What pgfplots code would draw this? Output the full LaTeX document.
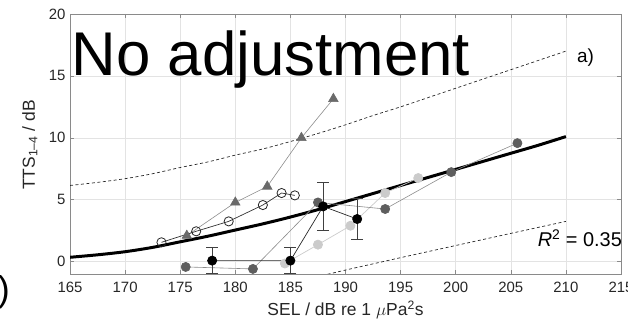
\documentclass[border=0pt]{standalone}
\usepackage{pgfplots}
\pgfplotsset{compat=1.18}
\usepackage{fontspec}
\setmainfont{Liberation Sans}
\definecolor{axgray}{HTML}{8A8A8A}
\definecolor{gridc}{HTML}{E3E3E3}
\definecolor{tri}{HTML}{6A6A6A}
\definecolor{dkc}{HTML}{5E5E5E}
\definecolor{ltc}{HTML}{CBCBCB}
\definecolor{txt}{HTML}{262626}
\begin{document}
\begin{tikzpicture}[x=1bp,y=1bp]
\begin{axis}[
  at={(70bp,50bp)}, anchor=south west,
  scale only axis, width=551bp, height=260bp,
  xmin=165, xmax=215, ymin=-1, ymax=20,
  xtick={165,170,...,215}, ytick={0,5,10,15,20},
  grid=major, major grid style={gridc, line width=0.5pt},
  axis line style={axgray, line width=0.8pt},
  tick align=inside, major tick length=4bp,
  tick style={axgray, line width=0.6pt},
  ticklabel style={font=\fontsize{15}{16}\selectfont, text=txt},
  /pgf/number format/assume math mode=true,
  xticklabel style={yshift=-5bp},
  yticklabel style={xshift=-1bp},
  xlabel={SEL / dB re 1 $\mu$Pa\textsuperscript{2}s},
  ylabel={TTS\textsubscript{1–4} / dB},
  label style={font=\fontsize{17.5}{18}\selectfont, text=txt},
  xlabel style={at={(axis description cs:0.5,-0.138)}, anchor=center},
  ylabel style={at={(axis description cs:-0.073,0.496)}, anchor=center},
  clip=true,
]
% fit curve
\addplot[black, line width=3pt, smooth] coordinates {
(165,0.35)(167.5,0.55)(170,0.8)(172.5,1.15)(175,1.6)(177.5,2.05)(180,2.55)(182.5,3.05)(185,3.6)(187.5,4.2)(190,4.85)(192.5,5.5)(195,6.15)(197.5,6.8)(200,7.45)(202.5,8.1)(205,8.75)(207.5,9.4)(210,10.1)};
% upper bound
\addplot[black!85, line width=0.7pt, dash pattern=on 3bp off 2.5bp, smooth] coordinates {
(165,6.15)(167.5,6.4)(170,6.7)(172.5,7.1)(175,7.6)(177.5,8.05)(180,8.6)(182.5,9.1)(185,9.7)(187.5,10.35)(190,11.05)(192.5,11.8)(195,12.5)(197.5,13.25)(200,14.0)(202.5,14.75)(205,15.5)(207.5,16.25)(210,17.0)};
% lower bound
\addplot[black!85, line width=0.7pt, dash pattern=on 3bp off 2.5bp] coordinates {
(184,-1.95)(190,-0.68)(195,0.32)(200,1.3)(205,2.28)(210,3.25)};
% light gray circles
\addplot[ltc, line width=0.7pt, mark=*, mark size=4.6bp, mark options={fill=ltc, draw=ltc}] coordinates {
(184.5,-0.15)(187.5,1.37)(190.45,2.9)(193.6,5.54)(196.6,6.75)};
% dark gray circles
\addplot[black!45, line width=0.6pt, mark=*, mark size=4.6bp, mark options={fill=dkc, draw=dkc}] coordinates {
(175.5,-0.43)(181.6,-0.59)(187.5,4.78)(193.6,4.25)(199.6,7.23)(205.6,9.57)};
% triangles
\addplot[black!45, line width=0.6pt, mark=triangle*, mark size=5.5bp, mark options={fill=tri, draw=tri}] coordinates {
(175.6,2.1)(180.0,4.78)(182.9,6.07)(186.0,10.0)(188.9,13.15)};
% open circles
\addplot[black!80, line width=0.7pt, mark=o, mark size=4.6bp, mark options={fill=white, draw=black!85, line width=0.8pt}] coordinates {
(173.3,1.56)(176.45,2.45)(179.4,3.25)(182.5,4.57)(184.2,5.54)(185.4,5.35)};
% black circles with error bars
\addplot[black!85, line width=0.7pt, mark=*, mark size=4.6bp, mark options={fill=black, draw=black},
  error bars/.cd, y dir=both, y explicit, error bar style={black!75, line width=0.8pt}, error mark options={rotate=90, mark size=6bp, line width=0.8pt, black!75}] coordinates {
(177.9,0.08) +- (0,1.05)
(185.0,0.08) +- (0,1.05)
(187.97,4.46) +- (0,1.9)
(191.06,3.44) +- (0,1.68)};
\node[anchor=base west, inner sep=0, font=\fontsize{62}{62}\selectfont] at (axis cs:165.15,15.07) {No adjustment};
\node[anchor=base west, inner sep=0, font=\fontsize{19}{19}\selectfont] at (axis cs:211.0,16.1) {a)};
\node[anchor=base east, inner sep=0, font=\fontsize{20}{20}\selectfont] at (axis cs:215.1,1.2) {\textit{R}\textsuperscript{2} = 0.35};
\end{axis}
\node[anchor=east, inner sep=0, font=\fontsize{36}{36}\selectfont] at (10bp,32bp) {)};
\pgfresetboundingbox
\useasboundingbox (0,0) rectangle (628bp,324bp);
\end{tikzpicture}
\end{document}
